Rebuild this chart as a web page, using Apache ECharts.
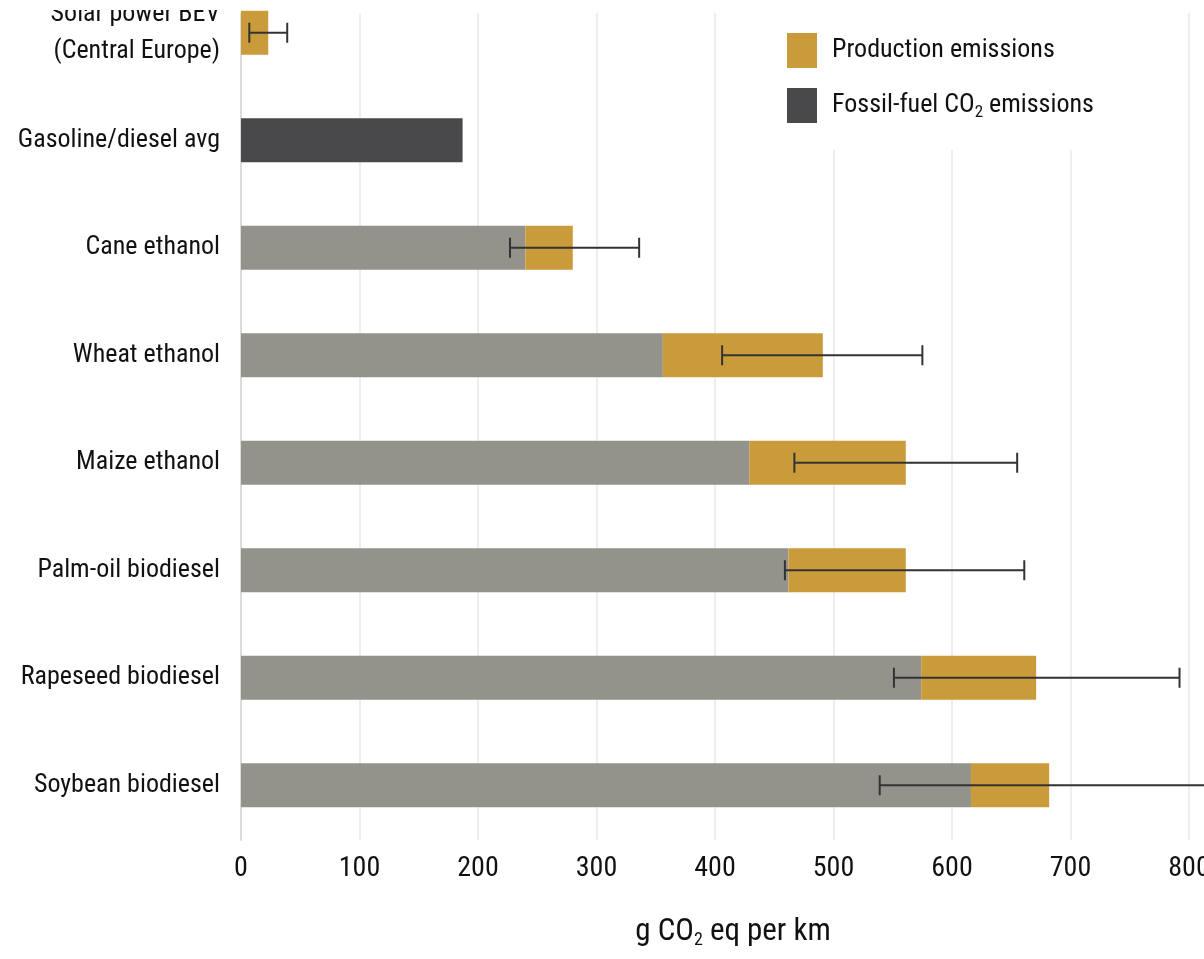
<!DOCTYPE html>
<html>
<head>
<meta charset="utf-8">
<title>Emissions per km by fuel pathway</title>
<script src="https://cdn.jsdelivr.net/npm/echarts@6/dist/echarts.min.js"></script>
<style>
  html, body { margin: 0; padding: 0; background: #ffffff; }
  #chart { width: 1204px; height: 959px; }
</style>
</head>
<body>
<div id="chart"></div>
<script>
// Categories, top to bottom
const categories = [
  'Solar power BEV\n(Central Europe)',
  'Gasoline/diesel avg',
  'Cane ethanol',
  'Wheat ethanol',
  'Maize ethanol',
  'Palm-oil biodiesel',
  'Rapeseed biodiesel',
  'Soybean biodiesel'
];
// g CO2 eq per km, stacked segments
const landUse    = [null, null, 240, 356, 429, 462, 574, 616];
const production = [23,   null,  40, 135, 132,  99,  97,  66];
const fossil     = [null, 187,  null, null, null, null, null, null];
// uncertainty range (low, high)
const errLow  = [7,  null, 227, 406, 467, 459, 551, 539];
const errHigh = [39, null, 336, 575, 655, 661, 792, 860];

const FONT = '"Roboto Condensed", "Liberation Sans Narrow", "Arial Narrow", "DejaVu Sans Condensed", sans-serif';
const INK = '#111111';
const C_GREY = '#93938b';
const C_GOLD = '#c99b3b';
const C_DARK = '#49494b';

const errData = [];
errLow.forEach((lo, i) => {
  if (lo != null && errHigh[i] != null) errData.push([lo, errHigh[i], i]);
});

// two-line labels get wider leading and sit slightly higher
const categoryItems = categories.map(c => c.indexOf('\n') >= 0
  ? { value: c, textStyle: { lineHeight: 37, padding: [0, 0, 8, 0] } }
  : c);

const chart = echarts.init(document.getElementById('chart'), null, { renderer: 'canvas' });

chart.setOption({
  animation: false,
  backgroundColor: '#ffffff',
  textStyle: { fontFamily: FONT },
  grid: [
    // bars
    { left: 241, right: 15, top: -21, bottom: 120, containLabel: false, outerBoundsMode: 'none' },
    // frame: gridlines, value ticks, left rule
    { left: 241, right: 15, top: 13, bottom: 119, containLabel: false, outerBoundsMode: 'none' }
  ],
  // white header strip along the top edge
  graphic: [{
    type: 'rect',
    left: 0,
    top: 0,
    z: 100,
    shape: { width: 1204, height: 10 },
    style: { fill: '#ffffff' }
  }],
  legend: {
    orient: 'vertical',
    left: 767,
    top: 13,
    padding: [20, 70, 27, 20],
    backgroundColor: '#ffffff',
    itemWidth: 30,
    itemHeight: 35,
    itemGap: 20,
    icon: 'rect',
    data: ['Production emissions', 'Fossil-fuel CO2 emissions'],
    formatter: function (name) {
      return name === 'Fossil-fuel CO2 emissions'
        ? 'Fossil-fuel CO{sub|2} emissions'
        : name;
    },
    textStyle: {
      fontFamily: FONT,
      fontSize: 26,
      color: INK,
      padding: [0, 0, 0, 10],
      rich: {
        sub: { fontFamily: FONT, fontSize: 17, color: INK, padding: [15, 0, 0, 0] }
      }
    }
  },
  xAxis: [
    {
      gridIndex: 0,
      type: 'value',
      min: 0,
      max: 800,
      interval: 100,
      show: false
    },
    {
      gridIndex: 1,
      type: 'value',
      min: 0,
      max: 800,
      interval: 100,
      axisLine: { show: false },
      axisTick: { show: false },
      splitLine: { show: true, lineStyle: { color: '#eeeef0', width: 2 } },
      axisLabel: { fontFamily: FONT, fontSize: 28, color: INK, margin: 15 },
      name: 'g CO{sub|2} eq per km',
      nameLocation: 'middle',
      nameGap: 75,
      nameTextStyle: {
        fontFamily: FONT,
        fontSize: 31,
        color: INK,
        padding: [0, 0, 0, 36],
        rich: {
          sub: { fontFamily: FONT, fontSize: 18, color: INK, padding: [16, 0, 0, 0] }
        }
      }
    }
  ],
  yAxis: [
    {
      gridIndex: 0,
      type: 'category',
      data: categoryItems,
      inverse: true,
      axisLine: { show: false },
      axisTick: { show: false },
      splitLine: { show: false },
      axisLabel: {
        fontFamily: FONT,
        fontSize: 26,
        lineHeight: 35,
        color: INK,
        margin: 21,
        align: 'right'
      }
    },
    {
      gridIndex: 1,
      type: 'value',
      min: 0,
      max: 1,
      axisLabel: { show: false },
      axisTick: { show: false },
      splitLine: { show: false },
      axisLine: { show: true, lineStyle: { color: '#dcdcdc', width: 2 } }
    }
  ],
  series: [
    {
      name: 'Land-use change emissions',
      type: 'bar',
      xAxisIndex: 0,
      yAxisIndex: 0,
      stack: 'total',
      barWidth: 44,
      itemStyle: { color: C_GREY },
      data: landUse
    },
    {
      name: 'Production emissions',
      type: 'bar',
      xAxisIndex: 0,
      yAxisIndex: 0,
      stack: 'total',
      barWidth: 44,
      itemStyle: { color: C_GOLD },
      data: production
    },
    {
      name: 'Fossil-fuel CO2 emissions',
      type: 'bar',
      xAxisIndex: 0,
      yAxisIndex: 0,
      stack: 'total',
      barWidth: 44,
      itemStyle: { color: C_DARK },
      data: fossil
    },
    {
      name: 'Range',
      type: 'custom',
      xAxisIndex: 0,
      yAxisIndex: 0,
      z: 10,
      clip: false,
      encode: { x: [0, 1], y: 2 },
      data: errData,
      renderItem: function (params, api) {
        const idx = api.value(2);
        const a = api.coord([api.value(0), idx]);
        const b = api.coord([api.value(1), idx]);
        const half = 10;
        const style = { stroke: '#333333', lineWidth: 2, fill: null };
        return {
          type: 'group',
          children: [
            { type: 'line', shape: { x1: a[0], y1: a[1], x2: b[0], y2: b[1] }, style: style },
            { type: 'line', shape: { x1: a[0], y1: a[1] - half, x2: a[0], y2: a[1] + half }, style: style },
            { type: 'line', shape: { x1: b[0], y1: b[1] - half, x2: b[0], y2: b[1] + half }, style: style }
          ]
        };
      }
    }
  ]
});
</script>
</body>
</html>
